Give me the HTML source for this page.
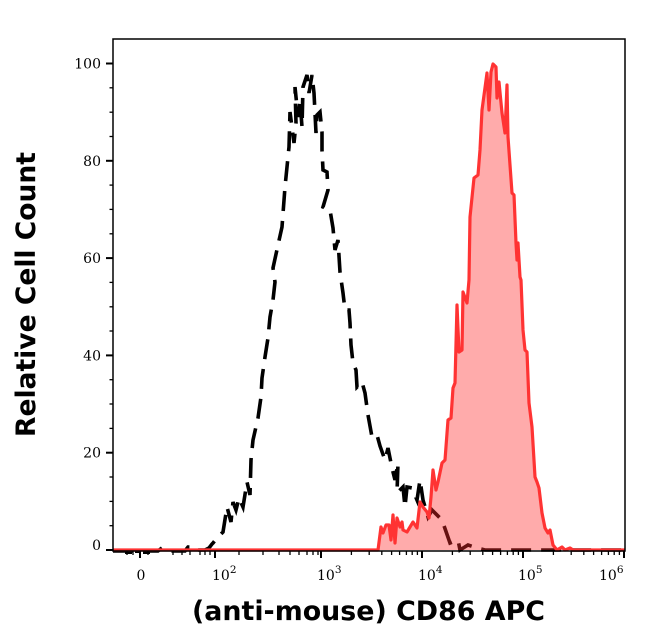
<!DOCTYPE html>
<html><head><meta charset="utf-8"><style>
html,body{margin:0;padding:0;background:#fff;}
svg{display:block;}
</style></head><body>
<svg width="646" height="641" viewBox="0 0 646 641" xmlns="http://www.w3.org/2000/svg">
<rect width="646" height="641" fill="#fff"/>
<polyline fill="none" stroke="#000" stroke-width="3.6" stroke-dasharray="20 10" stroke-linejoin="miter" points="113,551 120,551 128,551 135,551 142,551 150,551 158,551 162,548 166,549 170,551 185,551 188,547 195,547 198,550 205,550 209,548 212,544 213,543 217,538 223,532 227,507 231,522 233,502 236,510 239,498 243,507 247,482 250,495 251,460 253,440 258,418 261,397 262,378 265,357 268,338 270,317 273,300 275,282 273,268 278,245 282,227 285,187 287,167 289,147 290,112 294,143 296,123 295,87 298,117 300,100 302,127 303,87 307,75 309,93 312,75 314,93 316,133 317,115 320,112 322,132 322,150 323,170 327,172 328,190 323,207 330,210 333,228 335,250 338,240 340,272 343,293 345,310 349,310 350,323 351,345 353,363 356,370 357,387 362,382 365,393 368,415 372,437 377,435 380,446 385,460 388,448 392,468 395,480 398,463 397,493 403,487 405,507 407,487 412,488 417,500 420,480 423,500 428,517 432,510 442,520 450,543 458,540 460,550 468,545 477,548 485,550 625,550"/>
<g fill="#000">
<rect x="125" y="550" width="7" height="4"/>
<rect x="135" y="550" width="5" height="3"/>
<rect x="143" y="550" width="7" height="4"/>
</g>
<path fill="rgba(255,45,45,0.4)" stroke="none" d="M113,550 L378,550 L381,527 L383,533 L386,525 L389,525 L391,540 L393,515 L395,543 L397,518 L400,527 L402,522 L403,530 L407,532 L410,527 L413,522 L417,528 L420,502 L423,507 L427,512 L429,518 L431,497 L433,470 L436,490 L438,482 L442,463 L445,460 L448,420 L451,418 L453,388 L455,383 L457,305 L459,352 L462,350 L463,292 L467,303 L469,280 L470,217 L474,178 L478,175 L480,150 L482,110 L487,73 L489,110 L491,72 L493,64 L496,67 L497,98 L499,82 L502,113 L505,133 L507,85 L508,137 L512,193 L514,195 L516,243 L517,260 L518,243 L520,277 L521,280 L523,330 L525,350 L527,352 L529,403 L532,427 L535,477 L537,482 L539,488 L542,513 L545,528 L548,533 L550,530 L553,545 L557,550 L562,547 L565,550 L570,548 L573,550 L625,550 Z"/>
<polyline fill="none" stroke="#ff3333" stroke-width="3.2" stroke-linejoin="round" points="113,550 378,550 381,527 383,533 386,525 389,525 391,540 393,515 395,543 397,518 400,527 402,522 403,530 407,532 410,527 413,522 417,528 420,502 423,507 427,512 429,518 431,497 433,470 436,490 438,482 442,463 445,460 448,420 451,418 453,388 455,383 457,305 459,352 462,350 463,292 467,303 469,280 470,217 474,178 478,175 480,150 482,110 487,73 489,110 491,72 493,64 496,67 497,98 499,82 502,113 505,133 507,85 508,137 512,193 514,195 516,243 517,260 518,243 520,277 521,280 523,330 525,350 527,352 529,403 532,427 535,477 537,482 539,488 542,513 545,528 548,533 550,530 553,545 557,550 562,547 565,550 570,548 573,550 625,550"/>
<rect x="113" y="39" width="512" height="512" fill="none" stroke="#000" stroke-width="1.5"/>
<g stroke="#000" stroke-width="2">
<line x1="106" y1="550" x2="113" y2="550"/>
<line x1="106" y1="452.7" x2="113" y2="452.7"/>
<line x1="106" y1="355.4" x2="113" y2="355.4"/>
<line x1="106" y1="258.1" x2="113" y2="258.1"/>
<line x1="106" y1="160.8" x2="113" y2="160.8"/>
<line x1="106" y1="63.5" x2="113" y2="63.5"/>
<line x1="140" y1="551" x2="140" y2="558"/>
<line x1="215" y1="551" x2="215" y2="558"/>
<line x1="321" y1="551" x2="321" y2="558"/>
<line x1="422" y1="551" x2="422" y2="558"/>
<line x1="523" y1="551" x2="523" y2="558"/>
<line x1="624" y1="551" x2="624" y2="558"/>
</g>
<g stroke="#000" stroke-width="1.3">
<line x1="109.5" y1="525.7" x2="113" y2="525.7"/>
<line x1="109.5" y1="501.4" x2="113" y2="501.4"/>
<line x1="109.5" y1="477" x2="113" y2="477"/>
<line x1="109.5" y1="428.4" x2="113" y2="428.4"/>
<line x1="109.5" y1="404" x2="113" y2="404"/>
<line x1="109.5" y1="379.7" x2="113" y2="379.7"/>
<line x1="109.5" y1="331" x2="113" y2="331"/>
<line x1="109.5" y1="306.8" x2="113" y2="306.8"/>
<line x1="109.5" y1="282.4" x2="113" y2="282.4"/>
<line x1="109.5" y1="233.8" x2="113" y2="233.8"/>
<line x1="109.5" y1="209.4" x2="113" y2="209.4"/>
<line x1="109.5" y1="185.1" x2="113" y2="185.1"/>
<line x1="109.5" y1="136.5" x2="113" y2="136.5"/>
<line x1="109.5" y1="112.2" x2="113" y2="112.2"/>
<line x1="109.5" y1="87.8" x2="113" y2="87.8"/>
<line x1="127" y1="551" x2="127" y2="555"/>
<line x1="133" y1="551" x2="133" y2="555"/>
<line x1="148" y1="551" x2="148" y2="555"/>
<line x1="173" y1="551" x2="173" y2="555"/>
<line x1="182" y1="551" x2="182" y2="555"/>
<line x1="190" y1="551" x2="190" y2="555"/>
<line x1="200" y1="551" x2="200" y2="555"/>
<line x1="205" y1="551" x2="205" y2="555"/>
<line x1="210" y1="551" x2="210" y2="555"/>
<line x1="239" y1="551" x2="239" y2="555"/>
<line x1="263" y1="551" x2="263" y2="555"/>
<line x1="279" y1="551" x2="279" y2="555"/>
<line x1="290" y1="551" x2="290" y2="555"/>
<line x1="299" y1="551" x2="299" y2="555"/>
<line x1="307" y1="551" x2="307" y2="555"/>
<line x1="313" y1="551" x2="313" y2="555"/>
<line x1="318" y1="551" x2="318" y2="555"/>
<line x1="351.4" y1="551" x2="351.4" y2="555"/>
<line x1="369.2" y1="551" x2="369.2" y2="555"/>
<line x1="381.8" y1="551" x2="381.8" y2="555"/>
<line x1="391.6" y1="551" x2="391.6" y2="555"/>
<line x1="399.6" y1="551" x2="399.6" y2="555"/>
<line x1="406.4" y1="551" x2="406.4" y2="555"/>
<line x1="412.2" y1="551" x2="412.2" y2="555"/>
<line x1="417.4" y1="551" x2="417.4" y2="555"/>
<line x1="452.4" y1="551" x2="452.4" y2="555"/>
<line x1="470.2" y1="551" x2="470.2" y2="555"/>
<line x1="482.8" y1="551" x2="482.8" y2="555"/>
<line x1="492.6" y1="551" x2="492.6" y2="555"/>
<line x1="500.6" y1="551" x2="500.6" y2="555"/>
<line x1="507.4" y1="551" x2="507.4" y2="555"/>
<line x1="513.2" y1="551" x2="513.2" y2="555"/>
<line x1="518.4" y1="551" x2="518.4" y2="555"/>
<line x1="553.4" y1="551" x2="553.4" y2="555"/>
<line x1="571.2" y1="551" x2="571.2" y2="555"/>
<line x1="583.8" y1="551" x2="583.8" y2="555"/>
<line x1="593.6" y1="551" x2="593.6" y2="555"/>
<line x1="601.6" y1="551" x2="601.6" y2="555"/>
<line x1="608.4" y1="551" x2="608.4" y2="555"/>
<line x1="614.2" y1="551" x2="614.2" y2="555"/>
<line x1="619.4" y1="551" x2="619.4" y2="555"/>
</g>
<g font-family="'DejaVu Serif', 'Liberation Serif', serif" font-size="14" fill="#000" text-anchor="end">
<text x="101" y="550">0</text>
<text x="101" y="457.7">20</text>
<text x="101" y="360.4">40</text>
<text x="101" y="263.1">60</text>
<text x="101" y="165.8">80</text>
<text x="101" y="68.5">100</text>
</g>
<g font-family="'DejaVu Serif', 'Liberation Serif', serif" font-size="14" fill="#000">
<text x="141" y="580" text-anchor="middle">0</text>
<text x="212" y="580">10<tspan font-size="10.5" dy="-7">2</tspan></text>
<text x="317" y="580">10<tspan font-size="10.5" dy="-7">3</tspan></text>
<text x="418" y="580">10<tspan font-size="10.5" dy="-7">4</tspan></text>
<text x="518" y="580">10<tspan font-size="10.5" dy="-7">5</tspan></text>
<text x="599" y="580">10<tspan font-size="10.5" dy="-7">6</tspan></text>
</g>
<text x="192" y="620" font-family="'DejaVu Sans', 'Liberation Sans', sans-serif" font-weight="bold" font-size="27" fill="#000" textLength="353" lengthAdjust="spacingAndGlyphs">(anti-mouse) CD86 APC</text>
<text transform="translate(35,437) rotate(-90)" x="0" y="0" font-family="'DejaVu Sans', 'Liberation Sans', sans-serif" font-weight="bold" font-size="26.5" fill="#000" textLength="285" lengthAdjust="spacingAndGlyphs">Relative Cell Count</text>
</svg>
</body></html>
